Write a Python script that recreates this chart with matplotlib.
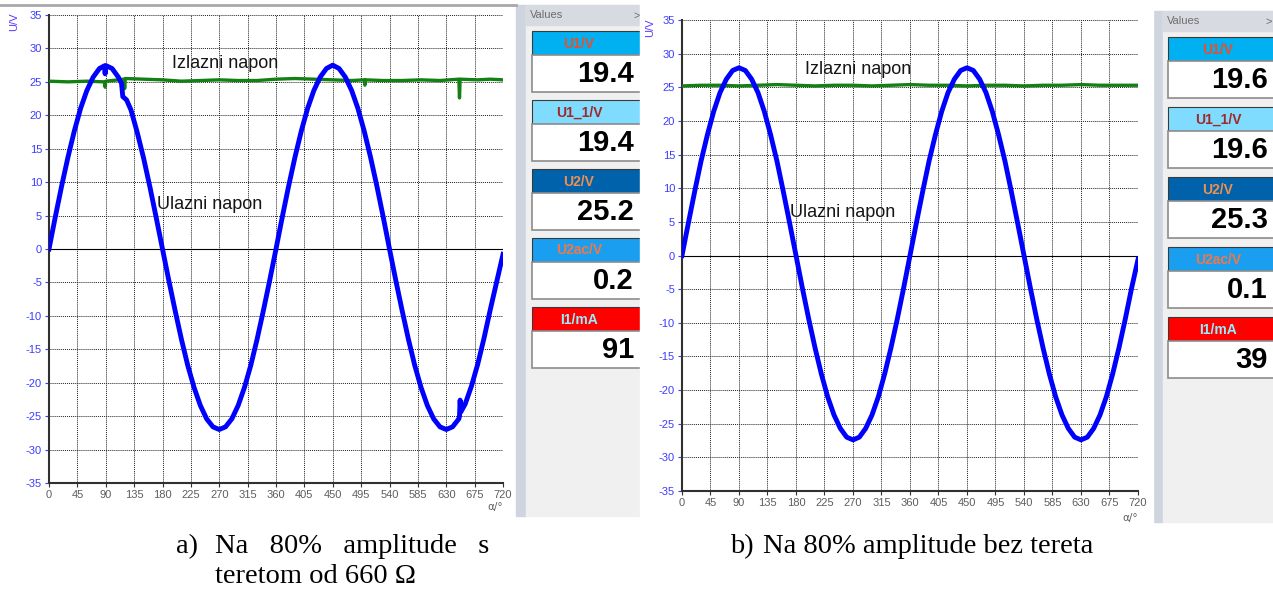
## two scope screenshots with value panels
import numpy as np
import matplotlib.pyplot as plt
from matplotlib.patches import Rectangle

W, H = 1273, 594

# blue curve (ulazni napon)
ang_a = [0, 10, 20, 30, 40, 50, 60, 70, 80, 88, 89, 90, 91, 100, 110, 115, 117, 123, 130, 140, 150, 160, 170, 180,
         190, 200, 210, 220, 230, 240, 250, 260, 270, 280, 290, 300, 310, 320, 330, 340, 350, 360,
         370, 380, 390, 400, 410, 420, 430, 440, 450, 460, 470, 480, 490, 500, 510, 520, 530, 540,
         550, 560, 570, 580, 590, 600, 610, 620, 630, 640, 650, 651, 652, 653, 660, 670, 680, 690, 700, 710, 720]
u1_a = [0.0, 4.8, 9.4, 13.7, 17.6, 21.0, 23.7, 25.7, 27.0, 27.4, 26.2, 27.4, 27.4, 27.0, 25.7, 24.8, 22.8, 22.3, 20.8, 17.4, 13.6, 9.3, 4.7, 0.0,
        -4.7, -9.2, -13.5, -17.4, -20.7, -23.4, -25.4, -26.6, -27.0, -26.6, -25.4, -23.4, -20.7, -17.4, -13.5, -9.2, -4.7, 0.0,
        4.8, 9.4, 13.7, 17.6, 21.0, 23.7, 25.7, 27.0, 27.5, 27.0, 25.7, 23.7, 21.0, 17.6, 13.7, 9.4, 4.8, 0.0,
        -4.7, -9.2, -13.5, -17.4, -20.7, -23.4, -25.4, -26.6, -27.0, -26.6, -25.4, -25.0, -22.6, -24.4, -23.2, -20.5, -17.2, -13.3, -9.0, -4.9, -0.8]

# green line (izlazni napon)
ang_ga = [0, 30, 60, 88, 89, 90, 110, 119, 120, 121, 150, 180, 210, 240, 270, 300, 330, 360, 390, 420, 450, 480,
          500, 501, 502, 530, 560, 590, 620, 650, 651, 652, 680, 700, 720]
u2_a = [25.1, 25.0, 25.1, 25.0, 24.2, 25.1, 25.3, 25.4, 24.0, 25.5, 25.4, 25.3, 25.1, 25.2, 25.3, 25.2, 25.2, 25.4,
        25.5, 25.4, 25.3, 25.2, 25.3, 24.5, 25.3, 25.2, 25.2, 25.3, 25.2, 25.4, 22.6, 25.4, 25.3, 25.4, 25.3]

ang_b = [0, 10, 20, 30, 40, 50, 60, 70, 80, 90, 100, 110, 120, 130, 140, 150, 160, 170, 180,
         190, 200, 210, 220, 230, 240, 250, 260, 270, 280, 290, 300, 310, 320, 330, 340, 350, 360,
         370, 380, 390, 400, 410, 420, 430, 440, 450, 460, 470, 480, 490, 500, 510, 520, 530, 540,
         550, 560, 570, 580, 590, 600, 610, 620, 630, 640, 650, 660, 670, 680, 690, 700, 710, 720]
u1_b = [0.0, 4.8, 9.5, 14.0, 17.9, 21.4, 24.2, 26.2, 27.5, 27.9, 27.5, 26.2, 24.2, 21.4, 17.9, 14.0, 9.5, 4.8, 0.0,
        -4.8, -9.4, -13.7, -17.6, -21.0, -23.7, -25.7, -27.0, -27.4, -27.0, -25.7, -23.7, -21.0, -17.6, -13.7, -9.4, -4.8, 0.0,
        4.8, 9.5, 14.0, 17.9, 21.4, 24.2, 26.2, 27.5, 27.9, 27.5, 26.2, 24.2, 21.4, 17.9, 14.0, 9.5, 4.8, 0.0,
        -4.8, -9.4, -13.7, -17.6, -21.0, -23.7, -25.7, -27.0, -27.4, -27.0, -25.7, -23.7, -21.0, -17.6, -13.7, -9.4, -4.8, -0.6]

ang_gb = [0, 30, 60, 90, 120, 150, 180, 210, 240, 270, 300, 330, 360, 390, 420, 450, 480, 510, 540, 570, 600, 630, 660, 690, 720]
u2_b = [25.2, 25.3, 25.3, 25.2, 25.3, 25.4, 25.3, 25.2, 25.3, 25.3, 25.2, 25.3, 25.4, 25.3, 25.3, 25.2, 25.3, 25.3,
        25.2, 25.3, 25.3, 25.4, 25.3, 25.3, 25.3]

x_ticks = [0, 45, 90, 135, 180, 225, 270, 315, 360, 405, 450, 495, 540, 585, 630, 675, 720]
y_ticks = [-35, -30, -25, -20, -15, -10, -5, 0, 5, 10, 15, 20, 25, 30, 35]

# value panels
val_names = ["U1/V", "U1_1/V", "U2/V", "U2ac/V", "I1/mA"]
vals_a = ["19.4", "19.4", "25.2", "0.2", "91"]
vals_b = ["19.6", "19.6", "25.3", "0.1", "39"]
head_bg = ["#00b0f0", "#80dcff", "#0062aa", "#1a9ff0", "#ff0000"]
head_fg = ["#e8502a", "#a02828", "#f09050", "#f07848", "#90f0ff"]


def px(x0, y0, x1, y1):
    return [x0 / W, 1 - y1 / H, (x1 - x0) / W, (y1 - y0) / H]


fig = plt.figure(figsize=(W / 100, H / 100), dpi=100)
bg = fig.add_axes([0, 0, 1, 1])
bg.set_xlim(0, W)
bg.set_ylim(H, 0)
bg.axis('off')

# left screenshot frame
bg.plot([0, 516], [5, 5], color='#a8a8a8', lw=2)
for sx, sy, cx in [(516, 5, 634), (1153, 11, 1265)]:
    bg.add_patch(Rectangle((sx, sy), 10, 511, color='#cfd5de', zorder=1))
    bg.add_patch(Rectangle((sx + 10, sy), 120, 511, color='#f0f0f0', zorder=1))
    bg.add_patch(Rectangle((sx + 10, sy), 120, 20, color='#d7dae0', zorder=1))
    bg.text(sx + 14, sy + 10.5, "Values", fontsize=8, color='#6e6e6e', va='center', family='Liberation Sans')
    bg.text(cx, sy + 10.5, ">", fontsize=8, color='#6e6e6e', va='center', family='Liberation Sans')

for panel, (bx, top0, step, vals, hx, vx) in enumerate([(532, 31, 69, vals_a, 579, 634),
                                                         (1168, 37, 70, vals_b, 1218, 1268)]):
    for i in range(5):
        top = top0 + step * i
        bg.add_patch(Rectangle((bx, top), 140, 24, facecolor=head_bg[i], edgecolor='#3a3a3a', lw=0.8, zorder=2))
        bg.add_patch(Rectangle((bx, top + 24), 140, 37, facecolor='white', edgecolor='#8c8c8c', lw=1.2, zorder=2))
        bg.text(hx, top + 12.5, val_names[i], fontsize=10, fontweight='bold', color=head_fg[i],
                ha='center', va='center', family='Liberation Sans', zorder=3)
        bg.text(vx, top + 43, vals[i], fontsize=21, fontweight='bold', color='black',
                ha='right', va='center', family='Liberation Sans', zorder=3)

# white cover for the right screenshot
bg.add_patch(Rectangle((640, 0), 513, 530, color='white', zorder=4))


def scope(rect, ang_u1, u1, ang_u2, u2, lab_iz, lab_ul):
    ax = fig.add_axes(px(*rect))
    ax.set_zorder(2)
    ax.set_xlim(0, 720)
    ax.set_ylim(-35, 35)
    ax.set_xticks(x_ticks)
    ax.set_yticks(y_ticks)
    ax.set_xticklabels([str(t) for t in x_ticks], fontsize=8, color='#5e5e5e', family='Liberation Sans')
    ax.set_yticklabels([str(t) for t in y_ticks], fontsize=8, color='#3c3cff', family='Liberation Sans')
    ax.tick_params(axis='y', length=3, color='#3c3cff', pad=2)
    ax.tick_params(axis='x', length=3, color='#303030', pad=2)
    ax.grid(True, color='#202020', linestyle=(0, (1, 1)), linewidth=0.7)
    ax.axhline(0, color='black', lw=0.8)
    for s in ['top', 'right']:
        ax.spines[s].set_visible(False)
    for s in ['left', 'bottom']:
        ax.spines[s].set_color('#303030')
        ax.spines[s].set_linewidth(1.5)
    ax.plot(ang_u2, u2, color='#138013', lw=2.4, zorder=3)
    ax.plot(ang_u1, u1, color='#0000ff', lw=3.5, zorder=4)
    ax.text(lab_iz[0], lab_iz[1], "Izlazni napon", fontsize=13, color='#151515', ha='center', va='center',
            family='Liberation Sans', zorder=5)
    ax.text(lab_ul[0], lab_ul[1], "Ulazni napon", fontsize=13, color='#151515', ha='center', va='center',
            family='Liberation Sans', zorder=5)
    return ax


scope((49, 15, 503, 483), ang_a, u1_a, ang_ga, u2_a, (279, 27.8), (255, 6.6))
scope((682, 20, 1138, 491), ang_b, u1_b, ang_gb, u2_b, (278, 27.6), (254, 6.4))

for x, y in [(14, 22), (650, 28)]:
    bg.text(x, y, "U/V", rotation=90, fontsize=8, color='#5a3cff', ha='center', va='center',
            family='Liberation Sans', zorder=5)
for x, y in [(495, 507), (1130, 518)]:
    bg.text(x, y, "α/°", fontsize=7.5, color='#5e5e5e', ha='center', va='center', family='DejaVu Sans', zorder=5)

# captions
cap = dict(fontsize=20.5, family='Liberation Serif', color='black', va='baseline', zorder=5)
bg.text(176, 553, "a)", **cap)
bg.text(215, 553, "Na   80%   amplitude   s", **cap)
bg.text(215, 583, "teretom od 660 Ω", **cap)
bg.text(730, 553, "b)", **cap)
bg.text(763, 553, "Na 80% amplitude bez tereta", **cap)

fig.savefig("out.png", dpi=100)
